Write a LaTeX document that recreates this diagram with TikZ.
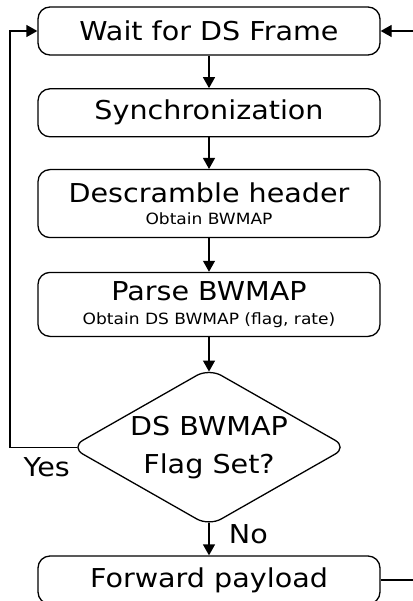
\documentclass[tikz,border=0pt]{standalone}
\usepackage{fontspec}
\setmainfont{DejaVu Sans}[FakeStretch=1.1]
\usetikzlibrary{shapes.geometric, arrows.meta, positioning}
\newcommand{\subtxt}[1]{{\fontsize{15.5}{18}\selectfont #1}}
\tikzset{
    process/.style={draw, rectangle, rounded corners=12pt, align=center, minimum width=342pt, line width=1.3pt, inner sep=2pt},
    decision/.style={draw, diamond, aspect=1.75, rounded corners=14pt, align=center, minimum width=277pt, minimum height=158pt, inner sep=0pt, line width=1.3pt},
    arrow/.style={-{Triangle[length=11pt, width=12pt]}, line width=1.3pt}
}

\begin{document}
\begin{tikzpicture}[
    x=1pt, y=1pt,
    node distance=32.5pt, % gap between the steps
    font=\fontsize{26}{30}\selectfont
]
    \useasboundingbox (0,0) rectangle (412,-601);

    % ============================================================
    % Main chain (top to bottom)
    % ============================================================
    \node[process, minimum height=48pt] (wait) at (209,-31) {Wait for DS Frame};
    \node[process, minimum height=48pt, below=of wait] (sync) {Synchronization};
    \node[process, minimum height=68pt, below=31.5pt of sync] (descr) {Descramble header\\[-8pt] \subtxt{Obtain BWMAP}};
    \node[process, minimum height=64pt, below=33.5pt of descr] (parse) {Parse BWMAP\\[-6pt] \subtxt{Obtain DS BWMAP (flag, rate)}};
    \node[decision, below=30.5pt of parse] (flag) {DS BWMAP\\[8pt]Flag Set?};
    \node[process, minimum height=48pt, below=28.5pt of flag] (fwd) {Forward payload};

    % Arrows down the chain
    \draw[arrow] (wait) -- (sync);
    \draw[arrow] (sync) -- (descr);
    \draw[arrow] (descr) -- (parse);
    \draw[arrow] (parse) -- ([yshift=-4pt]flag.north);
    \draw[arrow] ([yshift=4pt]flag.south) -- node[right=16pt, pos=0.35] {No} (fwd);

    % ============================================================
    % Loops back to the start
    % ============================================================
    \draw[arrow] ([xshift=7pt]flag.west) -- node[below=6pt, pos=0.45] {Yes} ++(-67pt,0) |- (wait.west);
    \draw[arrow] (fwd.east) -- ++(40pt,0) |- (wait.east);

\end{tikzpicture}
\end{document}
